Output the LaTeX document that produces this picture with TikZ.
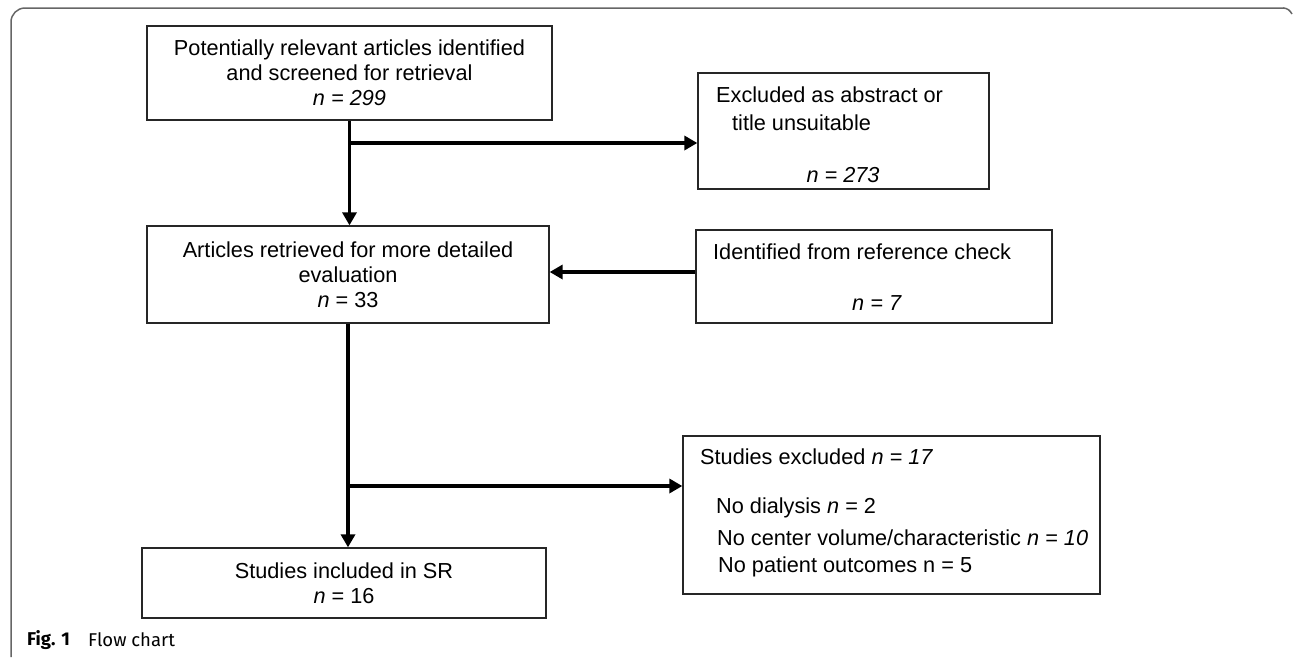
\documentclass[tikz,border=0pt]{standalone}
\usepackage{fontspec}
\setmainfont{Liberation Sans}
\newfontfamily\capfont{Fira Sans}
\usetikzlibrary{arrows.meta}

\begin{document}
\begin{tikzpicture}[x=1pt,y=-1pt,
        font=\fontsize{21.7}{25}\selectfont,
        box/.style={draw=black!85,line width=1.3pt,inner sep=0pt,align=center},
        txt/.style={anchor=west,inner sep=0pt},
        flow/.style={line width=3.5pt,-{Triangle[length=13pt,width=14pt]}},
        frame/.style={draw=black!60,line width=1.5pt}]
    \useasboundingbox (0,0) rectangle (1293,657);
    % frame of the figure
    \draw[frame,rounded corners=14pt] (11,657) -- (11,8) -- (1284,8);
    \draw[frame] (1283,8) to[out=0,in=120] (1292,14);

    % boxes
    \node[box,minimum width=405pt,minimum height=94pt] (top) at (349.5,73)
        {Potentially relevant articles identified\\ and screened for retrieval\\ \textit{n = 299}};
    \node[box,minimum width=291pt,minimum height=116pt] (excl) at (843.5,131) {};
    \node[txt] (excl1) at (716,95) {Excluded as abstract or};
    \node[txt] (excl2) at (732,123) {title unsuitable};
    \node[inner sep=0pt] (excl3) at (843,175) {\textit{n = 273}};

    \node[box,minimum width=402pt,minimum height=97pt] (retr) at (348,274.5)
        {Articles retrieved for more detailed\\ evaluation\\ \textit{n} = 33};
    \node[box,minimum width=356pt,minimum height=93pt] (ident) at (874,276.5) {};
    \node[txt] (ident1) at (713,252) {Identified from reference check};
    \node[inner sep=0pt] (ident2) at (877,303) {\textit{n = 7}};

    \node[box,minimum width=417pt,minimum height=158pt] (stud) at (891.5,515) {};
    \node[txt] (stud1) at (700,457) {Studies excluded \textit{n = 17}};
    \node[txt] (stud2) at (716,508) {No dialysis \textit{n} = 2};
    \node[txt] (stud3) at (717,538) {No center volume/characteristic \textit{n = 10}};
    \node[txt] (stud4) at (718,567) {No patient outcomes n = 5};

    \node[box,minimum width=404pt,minimum height=70pt] (incl) at (344,583)
        {Studies included in SR\\ \textit{n} = 16};

    % connectors
    \coordinate (b1) at (349,143);
    \coordinate (b2) at (348,486);
    \draw[flow] (top.south) -- (top.south |- retr.north);
    \draw[flow] (b1) -- (b1 -| excl.west);
    \draw[flow] (ident.west |- 0,272) -- (retr.east |- 0,272);
    \draw[flow] (retr.south) -- (retr.south |- incl.north);
    \draw[flow] (b2) -- (b2 -| stud.west);

    % caption
    \node[txt,font=\capfont\fontsize{18.5}{22}\selectfont\bfseries] (fig) at (27,640) {Fig. 1};
    \node[txt,font=\capfont\fontsize{18.5}{22}\selectfont] (cap) at (88,640) {Flow chart};
\end{tikzpicture}
\end{document}
